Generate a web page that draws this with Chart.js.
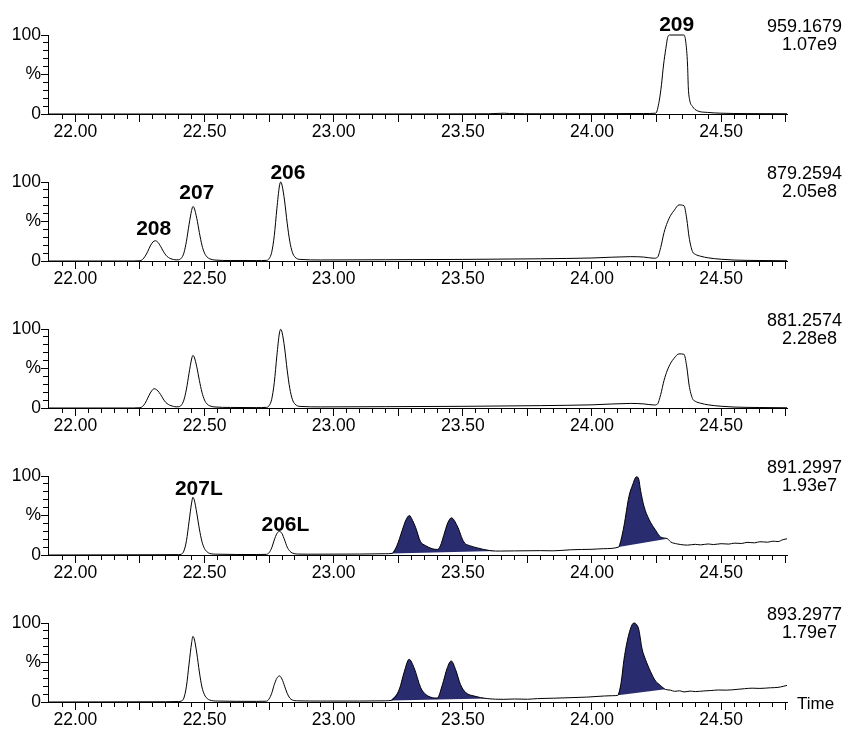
<!DOCTYPE html>
<html>
<head>
<meta charset="utf-8">
<script src="https://cdn.jsdelivr.net/npm/chart.js@4.4.1/dist/chart.umd.min.js"></script>
<style>
body{margin:0;background:#fff;overflow:hidden;width:843px;height:731px;position:relative;}
.panel{position:absolute;left:0;width:843px;height:147px;}
canvas{display:block;}
</style>
</head>
<body>
<div class="panel" style="top:0px"><canvas id="c0" width="843" height="147"></canvas></div>
<div class="panel" style="top:147px"><canvas id="c1" width="843" height="147"></canvas></div>
<div class="panel" style="top:294px"><canvas id="c2" width="843" height="147"></canvas></div>
<div class="panel" style="top:441px"><canvas id="c3" width="843" height="147"></canvas></div>
<div class="panel" style="top:588px"><canvas id="c4" width="843" height="147"></canvas></div>
<script>
// time axis (minutes)
const xMin = 21.894, xMax = 24.755;
const tickLabels = ['22.00','22.50','23.00','23.50','24.00','24.50'];
const yTickText = {0:'0', 50:'%', 100:'100'};

// channel info shown top right of each trace
const massLabels = ['959.1679','879.2594','881.2574','891.2997','893.2977'];
const intensityLabels = ['1.07e9','2.05e8','2.28e8','1.93e7','1.79e7'];

// traces as [time, %]
const p1 = [[21.894,0],[22.50,0],[23.00,0],[23.40,0.1],[23.60,0.3],[23.64,0.8],[23.66,1],[23.68,0.6],[23.80,0.3],
  [24.00,0.4],[24.20,0.6],[24.247,1],[24.260,16],[24.269,37],[24.277,62],[24.286,83],[24.294,98],[24.301,100],
  [24.356,100],[24.363,91.5],[24.370,62],[24.373,33],[24.378,18],[24.389,9.6],[24.408,4],[24.447,2],[24.499,1],
  [24.60,0.5],[24.755,0.3]];

const p2 = [[21.894,0],[22.20,0],[22.25,0.3],[22.26,2],[22.27,6],[22.28,12],[22.29,19],[22.30,24],[22.31,25.6],
  [22.32,23.5],[22.33,18.5],[22.34,12.5],[22.35,7.5],[22.36,4.5],[22.37,2.8],[22.38,1.8],[22.39,1.4],[22.40,1.6],
  [22.41,3.5],[22.42,10],[22.43,25],[22.44,46],[22.45,64],[22.455,69],[22.46,67],[22.47,54],[22.48,36],[22.49,20],
  [22.50,10],[22.51,5],[22.52,2.8],[22.54,1.2],[22.60,0.6],[22.70,0.5],[22.74,0.8],[22.75,3],[22.76,11],[22.77,32],
  [22.78,66],[22.79,95],[22.795,100],[22.80,96],[22.81,76],[22.82,48],[22.83,25],[22.84,11],[22.85,5],[22.87,2],
  [22.95,1.3],[23.20,1.6],[23.50,2],[23.80,2.8],[24.00,3.8],[24.15,5.5],[24.20,5],[24.24,3.5],[24.253,4.5],
  [24.266,17],[24.279,36],[24.292,49],[24.305,58],[24.318,64],[24.337,71],[24.356,70],[24.367,53],[24.376,30],
  [24.389,12],[24.40,8.5],[24.421,6],[24.45,4],[24.50,2.2],[24.55,1.2],[24.65,0.6],[24.755,0.3]];

const p3 = [[21.894,0],[22.20,0],[22.25,0.3],[22.26,2],[22.27,6],[22.28,12.5],[22.29,19],[22.30,23.5],[22.305,24.4],
  [22.31,24],[22.32,21.5],[22.33,17],[22.34,11.5],[22.35,7],[22.36,4.5],[22.37,3],[22.38,2],[22.39,1.5],[22.40,1.6],
  [22.41,3.5],[22.42,10],[22.43,24],[22.44,44],[22.45,62],[22.455,66.6],[22.46,64.5],[22.47,52],[22.48,35],[22.49,20],
  [22.50,10],[22.51,5],[22.52,2.8],[22.54,1.3],[22.60,0.7],[22.70,0.5],[22.74,0.8],[22.75,3],[22.76,11],[22.77,32],
  [22.78,66],[22.79,95],[22.795,99.5],[22.80,96],[22.81,76],[22.82,48],[22.83,25],[22.84,11],[22.85,5],[22.87,2],
  [22.95,1.4],[23.20,1.7],[23.50,2.1],[23.80,3],[24.00,4],[24.15,5.8],[24.20,5.2],[24.24,3.8],[24.253,4.8],
  [24.266,17],[24.279,35],[24.292,48],[24.305,57],[24.318,63],[24.337,68.5],[24.356,68],[24.367,52],[24.376,29],
  [24.389,12],[24.40,8.5],[24.421,6],[24.45,4],[24.50,2.2],[24.55,1.2],[24.65,0.6],[24.755,0.3]];

const p4 = [[21.894,0],[22.30,0.3],[22.40,0.5],[22.41,1],[22.42,5],[22.43,18],[22.44,42],[22.45,66],[22.455,73],
  [22.46,70],[22.47,53],[22.48,33],[22.49,17],[22.50,8],[22.51,4],[22.52,2],[22.55,1],[22.70,0.6],[22.74,0.8],
  [22.75,3],[22.76,9],[22.77,19],[22.78,27],[22.79,30],[22.80,27],[22.81,19],[22.82,10],[22.83,5],[22.84,2.5],
  [22.86,1.2],[22.90,1],[23.10,1.2],[23.20,1.6],[23.226,2],[23.245,12],[23.265,31],[23.278,43],[23.293,50],
  [23.305,44],[23.317,35],[23.336,17],[23.355,12],[23.381,8],[23.401,7],[23.413,11.6],[23.426,24.7],[23.442,41],
  [23.456,47],[23.478,37],[23.504,16.5],[23.530,11.5],[23.556,9],[23.581,7],[23.627,5],[23.646,5],[23.70,5.2],
  [23.80,5.5],[23.85,5.3],[23.917,6.6],[23.96,7],[24.00,7.2],[24.045,8],[24.103,10],[24.113,20],[24.124,37],
  [24.143,74],[24.157,88.5],[24.172,99],[24.181,96],[24.188,82],[24.201,62],[24.221,45],[24.247,31],[24.266,22.7],
  [24.292,20.6],[24.305,16.5],[24.33,14],[24.344,13.2],[24.37,12.5],[24.40,13.5],[24.42,12.8],[24.45,14],
  [24.47,13.2],[24.50,14.3],[24.53,13.8],[24.55,15],[24.58,14.6],[24.60,16],[24.63,15.4],[24.65,16.8],[24.68,16.2],
  [24.70,17.5],[24.72,17],[24.74,19.5],[24.755,20.5]];

const p5 = [[21.894,0],[22.35,0.3],[22.40,0.6],[22.41,1.2],[22.42,5],[22.43,20],[22.44,48],[22.45,75],[22.455,83],
  [22.46,80],[22.47,62],[22.48,38],[22.49,19],[22.50,9],[22.51,4.5],[22.52,2.5],[22.55,1.2],[22.70,0.8],[22.74,1],
  [22.75,4],[22.76,11],[22.77,22],[22.78,30],[22.79,33],[22.80,29],[22.81,20],[22.82,11],[22.83,5],[22.84,2.5],
  [22.86,1.5],[22.95,1.2],[23.10,1.2],[23.20,1.5],[23.222,2],[23.254,16],[23.273,38],[23.292,54],[23.311,43.5],
  [23.337,18],[23.356,9.7],[23.382,5.5],[23.401,5],[23.421,22],[23.440,43.5],[23.455,52],[23.472,41],[23.491,22],
  [23.511,12],[23.543,7.6],[23.594,4.3],[23.659,3.4],[23.70,3.8],[23.75,3.5],[23.789,4.3],[23.85,4.8],[23.919,5.5],
  [23.98,6.2],[24.048,7.6],[24.080,8],[24.100,8.5],[24.113,25],[24.124,54],[24.143,86],[24.162,100],[24.170,99],
  [24.181,92],[24.194,67],[24.207,54],[24.226,39],[24.246,26.6],[24.265,21],[24.284,16],[24.304,15],[24.32,13.5],
  [24.34,14.2],[24.356,12.7],[24.38,13.8],[24.40,13.2],[24.433,14],[24.46,14.5],[24.49,15.2],[24.52,15],[24.562,16],
  [24.59,16.8],[24.62,17.5],[24.65,17.2],[24.691,18],[24.72,18.5],[24.74,19.8],[24.755,21]];

const traces = [p1, p2, p3, p4, p5];

// integrated (shaded) peak windows per trace, [start, end] in minutes
const areas = [[], [], [], [[23.226,23.627],[24.103,24.292]], [[23.222,23.594],[24.100,24.284]]];

// peak annotations
const peakText = ['209','208','207','206','207L','206L'];
const peakPanel = [0, 1, 1, 1, 3, 3];
const peakTime = [24.328, 22.303, 22.470, 22.823, 22.478, 22.813];
const peakLevel = [112.7, 39.9, 85.2, 111, 83.5, 38];

const FONT = '"Liberation Sans", Arial, sans-serif';
const fillColor = '#2a2c70';
Chart.defaults.font.family = FONT;
Chart.defaults.color = '#000';

function toPts(arr){ return arr.map(function(p){ return {x:p[0], y:p[1]}; }); }
function align(px){ return Math.round(px - 0.5) + 0.5; }

function makeChart(i){
    var deco = {
        id:'deco',
        afterDraw:function(chart){
            var c = chart.ctx, xs = chart.scales.x, ys = chart.scales.y, a = chart.chartArea;
            c.save();
            c.strokeStyle = '#000';
            c.lineWidth = 1;
            c.beginPath();
            xs.ticks.forEach(function(t){
                if (t.value > xMin + 0.02 && Math.abs(t.value*4 - Math.round(t.value*4)) < 1e-6){
                    var px = align(xs.getPixelForValue(t.value));
                    c.moveTo(px, a.bottom + 5); c.lineTo(px, a.bottom + 8);
                }
            });
            ys.ticks.forEach(function(t){
                if (yTickText[t.value] !== undefined){
                    var py = align(ys.getPixelForValue(t.value));
                    c.moveTo(a.left - 5, py); c.lineTo(a.left - 7, py);
                }
            });
            c.stroke();

            c.fillStyle = '#000';
            c.textBaseline = 'middle';
            c.textAlign = 'right';
            c.font = '18px ' + FONT;
            c.fillText(massLabels[i], 842, 27);
            c.fillText(intensityLabels[i], 837, 45);

            c.textAlign = 'center';
            c.font = 'bold 21px ' + FONT;
            for (var k = 0; k < peakText.length; k++){
                if (peakPanel[k] !== i) continue;
                c.fillText(peakText[k], xs.getPixelForValue(peakTime[k]), ys.getPixelForValue(peakLevel[k]));
            }

            if (i === traces.length - 1){
                c.textAlign = 'left';
                c.font = '17px ' + FONT;
                c.fillText('Time', a.right + 10, a.bottom + 2);
            }
            c.restore();
        }
    };

    var datasets = [{
        data: toPts(traces[i]),
        borderColor: '#000',
        borderWidth: 1,
        pointRadius: 0,
        fill: false,
        cubicInterpolationMode: 'monotone',
        clip: false
    }];
    areas[i].forEach(function(r){
        datasets.push({
            data: toPts(traces[i].filter(function(p){ return p[0] >= r[0] && p[0] <= r[1]; })),
            borderColor: fillColor,
            borderWidth: 0,
            backgroundColor: fillColor,
            pointRadius: 0,
            fill: 'shape',
            cubicInterpolationMode: 'monotone',
            clip: false
        });
    });

    return new Chart(document.getElementById('c' + i).getContext('2d'), {
        type: 'line',
        data: { datasets: datasets },
        options: {
            responsive: false,
            animation: false,
            events: [],
            layout: { padding: { top: 35, right: 56, left: 0, bottom: 0 } },
            plugins: { legend: { display: false }, tooltip: { enabled: false } },
            scales: {
                x: {
                    type: 'linear',
                    min: xMin,
                    max: xMax,
                    afterFit: function(s){ s.height = 33; },
                    border: { display: true, color: '#000', width: 1 },
                    grid: {
                        drawOnChartArea: false,
                        drawTicks: true,
                        tickLength: 5,
                        tickWidth: 1,
                        tickColor: function(ctx){ return ctx.tick && ctx.tick.value < xMin + 0.02 ? 'rgba(0,0,0,0)' : '#000'; }
                    },
                    ticks: {
                        stepSize: 0.05,
                        autoSkip: false,
                        includeBounds: false,
                        maxRotation: 0,
                        padding: 3,
                        font: { size: 17.5 },
                        callback: function(v){
                            for (var k = 0; k < tickLabels.length; k++){
                                if (Math.abs(parseFloat(tickLabels[k]) - v) < 1e-6) return tickLabels[k];
                            }
                            return '';
                        }
                    }
                },
                y: {
                    min: 0,
                    max: 100,
                    afterFit: function(s){ s.width = 48; },
                    border: { display: true, color: '#000', width: 1 },
                    grid: { drawOnChartArea: false, drawTicks: true, tickLength: 5, tickColor: '#000' },
                    ticks: {
                        stepSize: 10,
                        autoSkip: false,
                        padding: 2,
                        font: { size: 17.5 },
                        callback: function(v){ return yTickText[v] !== undefined ? yTickText[v] : ''; }
                    }
                }
            }
        },
        plugins: [deco]
    });
}

for (var i = 0; i < traces.length; i++) makeChart(i);
</script>
</body>
</html>
